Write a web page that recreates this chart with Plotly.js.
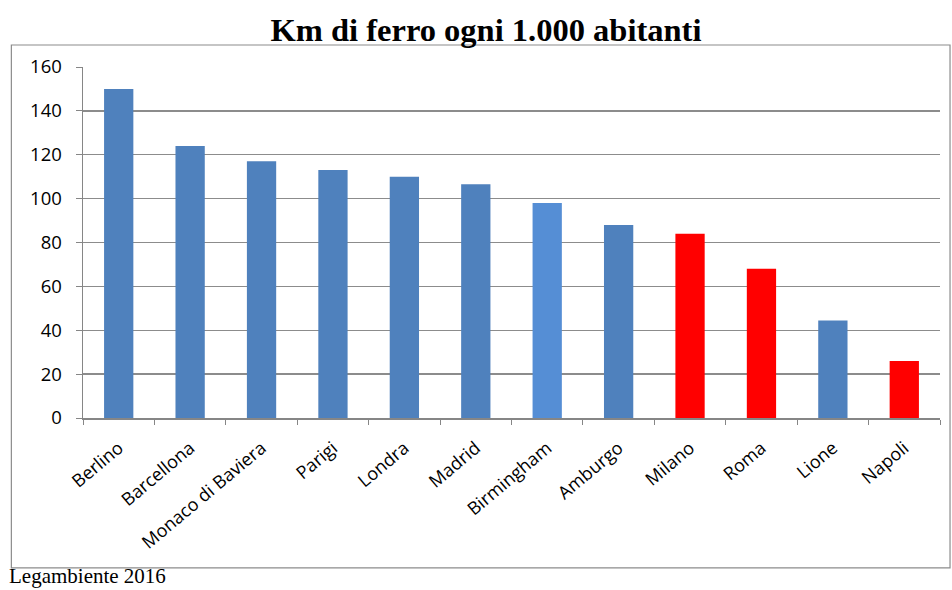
<!DOCTYPE html>
<html>
<head>
<meta charset="utf-8">
<script src="https://cdn.plot.ly/plotly-3.0.1.min.js"></script>
<style>html,body{margin:0;padding:0;background:#fff;}#chart{width:952px;height:590px;}</style>
</head>
<body>
<div id="chart"></div>
<script>
const categories = ["Berlino","Barcellona","Monaco di Baviera","Parigi","Londra","Madrid","Birmingham","Amburgo","Milano","Roma","Lione","Napoli"];
const values = [150,124,117,113,110,106.5,98,88,84,68,44.5,26];
const barColors = ["#4F81BD","#4F81BD","#4F81BD","#4F81BD","#4F81BD","#4F81BD","#558ED5","#4F81BD","#FF0000","#FF0000","#4F81BD","#FF0000"];
const yTicks = [0,20,40,60,80,100,120,140,160];

const trace = {
  type: "bar",
  x: categories,
  y: values,
  marker: {color: barColors},
  hoverinfo: "x+y"
};

const layout = {
  width: 952,
  height: 590,
  margin: {l: 83, r: 12, t: 67, b: 172},
  paper_bgcolor: "#ffffff",
  plot_bgcolor: "#ffffff",
  bargap: 0.59,
  showlegend: false,
  title: {
    text: "<b>Km di ferro ogni 1.000 abitanti</b>",
    font: {family: "Liberation Serif, serif", size: 32.5, color: "#000"},
    x: 0.5105, xanchor: "center", y: 0.95, yanchor: "middle"
  },
  xaxis: {
    type: "category",
    tickangle: -40,
    tickson: "boundaries",
    ticks: "outside",
    ticklen: 5,
    tickcolor: "#868686",
    ticklabelstandoff: 11,
    showline: true,
    linecolor: "#868686",
    linewidth: 1.5,
    showgrid: false,
    tickfont: {family: "Open Sans, sans-serif", size: 18, color: "#000"}
  },
  yaxis: {
    range: [0, 160],
    tickvals: yTicks,
    ticks: "outside",
    ticklen: 6,
    tickcolor: "#868686",
    ticklabelstandoff: 10,
    showline: true,
    linecolor: "#868686",
    linewidth: 1.5,
    showgrid: true,
    gridcolor: "#8c8c8c",
    gridwidth: 1.3,
    zeroline: false,
    tickfont: {family: "Open Sans, sans-serif", size: 18.5, color: "#000"}
  },
  shapes: [{
    type: "rect", xref: "paper", yref: "paper",
    x0: -0.0836, x1: 1.0117, y0: -0.427, y1: 1.0627,
    line: {color: "#8c8c8c", width: 1.2}, fillcolor: "rgba(0,0,0,0)", layer: "below"
  }],
  annotations: [{
    text: "Legambiente 2016",
    xref: "paper", yref: "paper",
    x: -0.0887, y: -0.4895, xanchor: "left", yanchor: "bottom",
    showarrow: false,
    font: {family: "Liberation Serif, serif", size: 21, color: "#000"}
  }]
};

Plotly.newPlot("chart", [trace], layout, {displayModeBar: false, staticPlot: true});
</script>
</body>
</html>
